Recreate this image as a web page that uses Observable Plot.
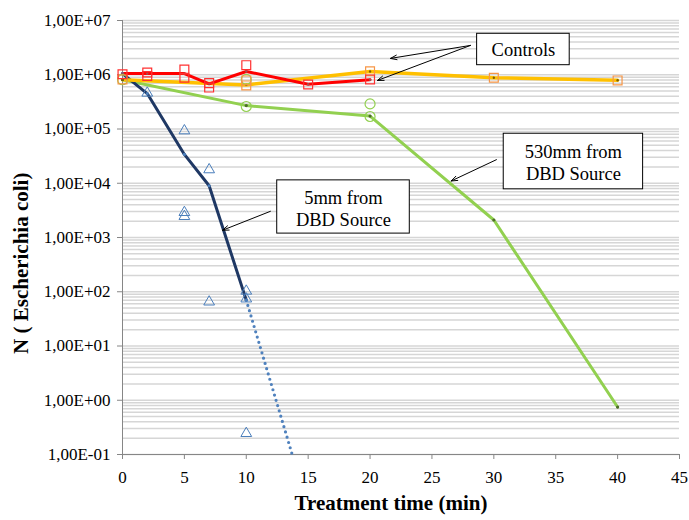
<!DOCTYPE html>
<html><head><meta charset="utf-8">
<script src="https://cdn.jsdelivr.net/npm/d3@7"></script>
<script src="https://cdn.jsdelivr.net/npm/@observablehq/plot@0.6"></script>
<style>body{margin:0;background:#fff}</style>
</head><body><div id="chart"></div>
<script>
// ---- tick labels ----
const xTicks = [0, 5, 10, 15, 20, 25, 30, 35, 40, 45];
const yTicks = [1e-1, 1e0, 1e1, 1e2, 1e3, 1e4, 1e5, 1e6, 1e7];
const xTitle = "Treatment time (min)";
const yTitle = "N ( Escherichia coli)";

// ---- Controls (red series) ----
const redLineT = [0, 2, 5, 7, 10, 15, 20];
const redLineN = [1.05e6, 1.05e6, 1.05e6, 6.8e5, 1.15e6, 6.7e5, 8.1e5];
const redPtsT  = [0, 2, 2, 5, 5, 7, 7, 10, 15, 20];
const redPtsN  = [1.02e6, 1.1e6, 9.5e5, 1.25e6, 8.8e5, 7.0e5, 5.8e5, 1.5e6, 6.6e5, 8.2e5];

// ---- Controls (orange series) ----
const orLineT = [0, 10, 20, 30, 40];
const orLineN = [8.1e5, 6.5e5, 1.15e6, 8.8e5, 7.9e5];
const orPtsT  = [0, 10, 10, 20, 30, 40];
const orPtsN  = [8.2e5, 7.85e5, 6.35e5, 1.16e6, 8.8e5, 7.85e5];

// ---- 530mm from DBD source (green) ----
const grLineT = [0, 10, 20, 30, 40];
const grLineN = [8.1e5, 2.7e5, 1.73e5, 2.1e3, 0.75];
const grPtsT  = [0, 10, 10, 20, 20];
const grPtsN  = [8.1e5, 8.2e5, 2.6e5, 2.9e5, 1.7e5];

// ---- 5mm from DBD source (navy + blue triangles) ----
const nvLineT = [0, 2, 5, 7, 10];
const nvLineN = [1.05e6, 4.5e5, 3.4e4, 9.0e3, 70];
const nvPtsT  = [2, 5, 5, 5, 7, 7, 10, 10, 10];
const nvPtsN  = [4.6e5, 9.3e4, 2.9e3, 2.45e3, 1.78e4, 65, 103, 74, 0.245];
const trendT  = [10, 13.71];
const trendN  = [70, 0.1];

// ---- annotations ----
const boxLabels = ["Controls", "5mm from\nDBD Source", "530mm from\nDBD Source"];
const boxX1 = [28.65, 12.5, 30.8];
const boxX2 = [36.13, 23.21, 42.06];
const boxY1 = [1.5e6, 1.18e3, 7.73e3];
const boxY2 = [5.69e6, 1.13e4, 8.18e4];
const labelX = [32.39, 17.85, 36.43];
const labelY = [2.93e6, 3.45e3, 2.48e4];
const arrowX1 = [28.11, 28.11, 11.95, 30.21];
const arrowY1 = [3.47e6, 3.47e6, 3.04e3, 2.72e4];
const arrowX2 = [21.65, 20.6, 8.08, 26.55];
const arrowY2 = [2.0e6, 7.85e5, 1.36e3, 1.10e4];

const FF = "'Liberation Serif', 'Times New Roman', serif";
const zip = (T, N) => T.map((t, i) => ({t, n: N[i]}));
const grid = [];
for (let e = -1; e < 7; e++) for (let k = 1; k <= 9; k++) grid.push(k * Math.pow(10, e));
grid.push(1e7);
const fmt = d => { const e = Math.round(Math.log10(d)); return "1,00E" + (e < 0 ? "-" : "+") + String(Math.abs(e)).padStart(2, "0"); };

const boxes = boxLabels.map((l, i) => ({l, x1: boxX1[i], x2: boxX2[i], y1: boxY1[i], y2: boxY2[i], x: labelX[i], y: labelY[i]}));
const arrows = arrowX1.map((x, i) => ({x1: x, y1: arrowY1[i], x2: arrowX2[i], y2: arrowY2[i]}));

const chart = Plot.plot({
  width: 689, height: 520,
  marginLeft: 122, marginRight: 10, marginTop: 20, marginBottom: 66,
  style: {fontFamily: FF, fontSize: "17px", color: "#000", background: "#fff"},
  x: {domain: [0, 45]},
  y: {type: "log", domain: [0.1, 1e7]},
  marks: [
    Plot.ruleY(grid, {stroke: "#d6d6d6", strokeWidth: 1.5}),
    Plot.ruleX([0], {stroke: "#868686"}),
    Plot.ruleY([0.1], {stroke: "#868686"}),
    Plot.axisX({ticks: xTicks, tickSize: 5, tickPadding: 11, tickFormat: d => String(d), stroke: "#868686", label: null, fontSize: 17, fontFamily: FF}),
    Plot.axisY({ticks: yTicks, tickSize: 5, tickPadding: 7, tickFormat: fmt, stroke: "#868686", label: null, fontSize: 17, fontFamily: FF}),
    Plot.text([xTitle], {frameAnchor: "bottom", dx: -10, dy: 55, fontSize: 21, fontWeight: "bold", fontFamily: FF}),
    Plot.text([yTitle], {x: () => 0, y: () => 335, dx: -101, rotate: -90, fontSize: 21, fontWeight: "bold", fontFamily: FF}),
    // lines
    Plot.line(zip(grLineT, grLineN), {x: "t", y: "n", stroke: "#92d050", strokeWidth: 3}),
    Plot.line(zip(nvLineT, nvLineN), {x: "t", y: "n", stroke: "#1f3864", strokeWidth: 3}),
    Plot.line(zip(trendT, trendN), {x: "t", y: "n", stroke: "#4f81bd", strokeWidth: 3.2, strokeLinecap: "round", strokeDasharray: "0,5.5"}),
    Plot.line(zip(orLineT, orLineN), {x: "t", y: "n", stroke: "#ffc000", strokeWidth: 3.5}),
    Plot.line(zip(redLineT, redLineN), {x: "t", y: "n", stroke: "#ff0000", strokeWidth: 3}),
    // vertex dots
    Plot.dot(zip(grLineT, grLineN), {x: "t", y: "n", r: 1.6, fill: "#4d6b2a"}),
    Plot.dot(zip(nvLineT, nvLineN), {x: "t", y: "n", r: 1.6, fill: "#4a7ebb"}),
    Plot.dot(zip(orLineT, orLineN), {x: "t", y: "n", r: 1.2, fill: "#7f5f00"}),
    Plot.dot(zip(redLineT, redLineN), {x: "t", y: "n", r: 1.2, fill: "#a05050"}),
    // markers
    Plot.dot(zip(grPtsT, grPtsN), {x: "t", y: "n", r: 5, symbol: "circle", stroke: "#92d050", strokeWidth: 1.2}),
    Plot.dot(zip(orPtsT, orPtsN), {x: "t", y: "n", r: 5, symbol: "square", stroke: "#f79646", strokeWidth: 1.2}),
    Plot.dot(zip(redPtsT, redPtsN), {x: "t", y: "n", r: 5, symbol: "square", stroke: "#ff3030", strokeWidth: 1.2}),
    Plot.dot(zip(nvPtsT, nvPtsN), {x: "t", y: "n", r: 4, symbol: "triangle", stroke: "#4a7ebb", strokeWidth: 1}),
    // annotations
    Plot.rect(boxes, {x1: "x1", x2: "x2", y1: "y1", y2: "y2", fill: "#fff", stroke: "#000", strokeWidth: 1}),
    Plot.text(boxes, {x: "x", y: "y", text: "l", fontSize: 18.5, lineHeight: 1.19, fontFamily: FF}),
    Plot.arrow(arrows, {x1: "x1", y1: "y1", x2: "x2", y2: "y2", stroke: "#000", strokeWidth: 1, headLength: 10, headAngle: 40})
  ]
});
document.getElementById("chart").append(chart);
</script>
</body></html>
